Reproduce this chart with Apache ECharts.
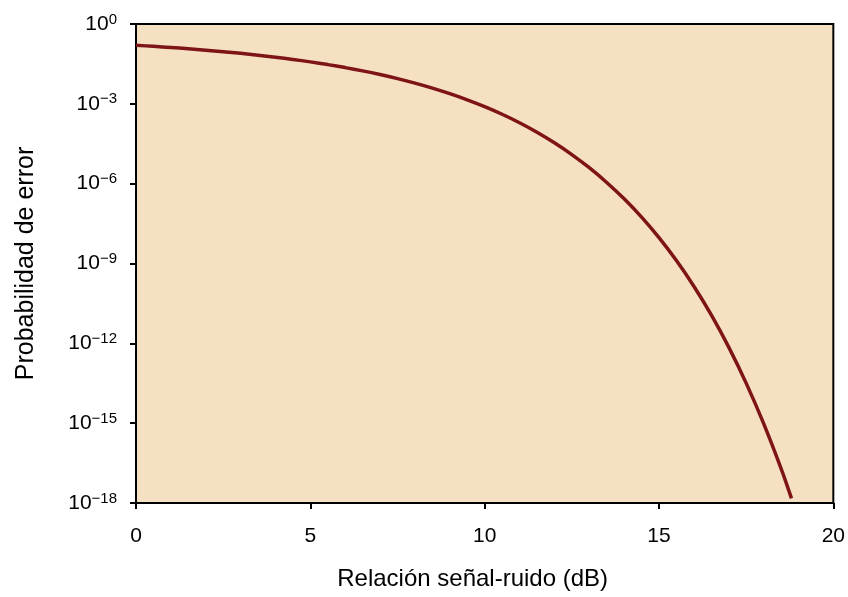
<!DOCTYPE html>
<html><head><meta charset="utf-8">
<script src="https://cdn.jsdelivr.net/npm/echarts@6/dist/echarts.min.js"></script>
<style>html,body{margin:0;padding:0;background:#fff}#c{width:848px;height:597px}</style>
</head><body><div id="c"></div>
<script>
const snrDb = [0,0.5,1,1.5,2,2.5,3,3.5,4,4.5,5,5.5,6,6.5,7,7.5,8,8.5,9,9.5,10,10.5,11,11.5,12,12.5,13,13.5,14,14.5,15,15.5,16,16.5,17,17.5,18,18.5,18.8];
const errorProb = [0.1587,0.1447,0.1309,0.1173,0.1040,0.0912,0.0789,0.0673,0.0565,0.0466,0.0377,0.0298,0.0230,0.0173,0.0126,0.00886,0.00600,0.00390,0.00241,0.00142,7.83e-4,4.05e-4,1.94e-4,8.55e-5,3.43e-5,1.24e-5,3.97e-6,1.11e-6,2.69e-7,5.52e-8,9.36e-9,1.29e-9,1.40e-10,1.17e-11,7.2e-13,3.2e-14,9.8e-16,2.0e-17,1.5e-18];
const xTicks = [0,5,10,15,20];
const yExponents = [0,-3,-6,-9,-12,-15,-18];
const xName = 'Relación señal-ruido (dB)';
const yName = 'Probabilidad de error';

const chart = echarts.init(document.getElementById('c'), null, {renderer:'canvas'});
const font = 'Liberation Sans, Arial, sans-serif';
chart.setOption({
  animation:false,
  grid:{left:136,right:13,top:24,bottom:94,show:true,backgroundColor:'#f5e1c2',borderColor:'#000',borderWidth:2},
  xAxis:{type:'value',min:xTicks[0],max:xTicks[xTicks.length-1],interval:5,
    name:xName,nameLocation:'middle',nameGap:64,
    nameTextStyle:{fontFamily:font,fontSize:24,color:'#000',padding:[0,24,0,0]},
    axisLine:{show:true,lineStyle:{color:'#000',width:2}},
    axisTick:{show:true,inside:false,length:6,lineStyle:{color:'#000',width:2}},
    axisLabel:{fontFamily:font,fontSize:21,color:'#000',margin:23},
    splitLine:{show:false}},
  yAxis:{type:'log',logBase:10,min:Math.pow(10,yExponents[yExponents.length-1]),max:Math.pow(10,yExponents[0]),interval:3,
    name:yName,nameLocation:'middle',nameGap:97,
    nameTextStyle:{fontFamily:font,fontSize:25,color:'#000'},
    axisLine:{show:true,lineStyle:{color:'#000',width:2}},
    axisTick:{show:true,inside:false,length:6,lineStyle:{color:'#000',width:2}},
    axisLabel:{margin:19,formatter:function(v){const e=Math.round(Math.log10(v));return '{b|10}{s|'+(e<0?'\u2212'+(-e):e)+'}';},
      rich:{b:{fontFamily:font,fontSize:21,color:'#000'},s:{fontFamily:font,fontSize:15,color:'#000',padding:[0,0,9,0]}}},
    splitLine:{show:false}},
  series:[{type:'line',showSymbol:false,smooth:0.3,data:snrDb.map((x,i)=>[x,errorProb[i]]),
    lineStyle:{color:'#7e1416',width:3.5},clip:true}]
});
</script></body></html>
